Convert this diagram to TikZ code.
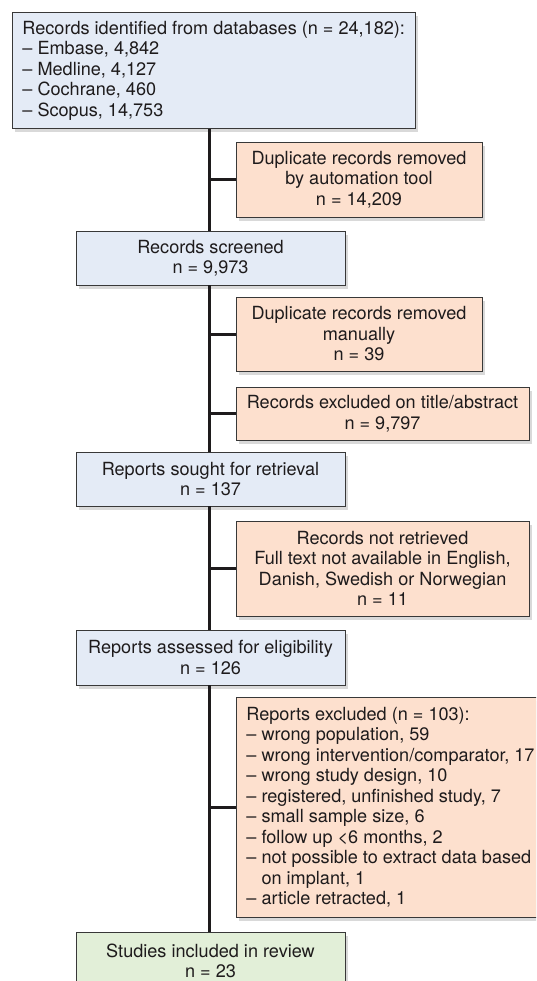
\documentclass[tikz,border=0pt]{standalone}
\usepackage{fontspec}
\setmainfont{TeX Gyre Heros}
\usetikzlibrary{shadows}
\definecolor{bluefill}{HTML}{E4EBF6}
\definecolor{orangefill}{HTML}{FDE0CE}
\definecolor{greenfill}{HTML}{E2EFD8}
\definecolor{edgegray}{HTML}{383838}
\definecolor{inkdark}{HTML}{1E1B1C}
\tikzset{
  box/.style={draw=edgegray, line width=0.9pt, inner sep=0pt, text=inkdark,
    font=\fontsize{18.1pt}{20.5pt}\selectfont,
    drop shadow={shadow xshift=3pt, shadow yshift=-4pt, opacity=0.3}},
  bluebox/.style={box, fill=bluefill, align=center},
  orangebox/.style={box, fill=orangefill, align=center},
  greenbox/.style={box, fill=greenfill, align=center},
  trunk/.style={draw=inkdark, line width=3pt}
}
\begin{document}
\begin{tikzpicture}[x=1pt, y=-1pt]
\useasboundingbox (0,0) rectangle (536,981);
\clip (0,0) rectangle (536,981);
\coordinate (t) at (209,0);

\node[bluebox, anchor=north west, minimum height=116pt, inner xsep=10pt, align=left] (src) at (12,12)
  {Records identified from databases (n = 24,182):\\
   – Embase, 4,842\\
   – Medline, 4,127\\
   – Cochrane, 460\\
   – Scopus, 14,753};

\node[orangebox, minimum width=246pt, minimum height=75pt] (dupauto) at (359,179.5)
  {Duplicate records removed\\by automation tool\\n = 14,209};

\node[bluebox, minimum width=269pt, minimum height=54pt] (screened) at (210.5,258)
  {Records screened\\n = 9,973};

\node[orangebox, minimum width=246pt, minimum height=74pt] (dupman) at (359,334)
  {Duplicate records removed\\manually\\n = 39};

\node[orangebox, minimum width=293pt, minimum height=53pt] (excltitle) at (382.5,413.5)
  {Records excluded on title/abstract\\n = 9,797};

\node[bluebox, minimum width=269pt, minimum height=54pt] (sought) at (210.5,479)
  {Reports sought for retrieval\\n = 137};

\node[orangebox, minimum width=293pt, minimum height=95pt] (notretr) at (382.5,568.5)
  {Records not retrieved\\Full text not available in English,\\Danish, Swedish or Norwegian\\n = 11};

\node[bluebox, minimum width=269pt, minimum height=55pt] (assessed) at (210.5,657.5)
  {Reports assessed for eligibility\\n = 126};

\node[orangebox, anchor=north west, minimum height=220pt, inner xsep=10pt, align=left] (repexcl) at (236,697)
  {Reports excluded (n = 103):\\
   – wrong population, 59\\
   – wrong intervention/comparator, 17\\
   – wrong study design, 10\\
   – registered, unfinished study, 7\\
   – small sample size, 6\\
   – follow up <6 months, 2\\
   – not possible to extract data based\\
   \phantom{– }on implant, 1\\
   – article retracted, 1};

\node[greenbox, minimum width=269pt, minimum height=58pt] (included) at (210.5,961)
  {Studies included in review\\n = 23};

% trunk
\draw[trunk] (src.south -| t) -- (screened.north -| t);
\draw[trunk] (screened.south -| t) -- (sought.north -| t);
\draw[trunk] (sought.south -| t) -- (assessed.north -| t);
\draw[trunk] (assessed.south -| t) -- (included.north -| t);
% branches
\draw[trunk] (dupauto.west -| t) -- (dupauto.west);
\draw[trunk] (dupman.west -| t) -- (dupman.west);
\draw[trunk] (excltitle.west -| t) -- (excltitle.west);
\draw[trunk] (notretr.west -| t) -- (notretr.west);
\draw[trunk] (repexcl.west -| t) -- (repexcl.west);
\end{tikzpicture}
\end{document}
